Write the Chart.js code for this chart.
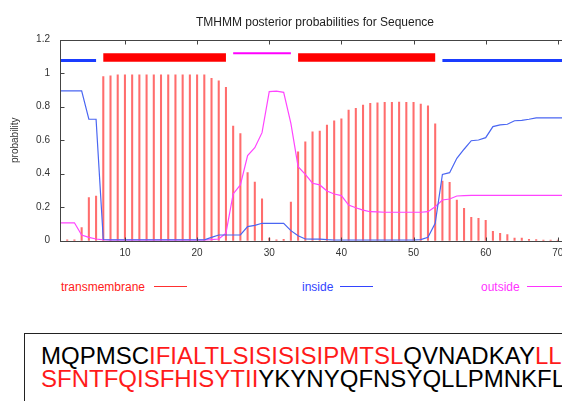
<!DOCTYPE html>
<html><head><meta charset="utf-8">
<script src="https://cdn.jsdelivr.net/npm/chart.js@4.4.0/dist/chart.umd.min.js"></script>
<style>
html,body{margin:0;padding:0;background:#fff;width:562px;height:401px;overflow:hidden;position:relative;font-family:'Liberation Sans',Arial,Helvetica,sans-serif;}
#wrap{position:absolute;left:0;top:0;width:640px;height:265px;}
.leg{position:absolute;top:280px;font-size:12px;line-height:14px;white-space:nowrap;}
.legline{position:absolute;top:286px;height:1px;}
#seqbox{position:absolute;left:24px;top:333px;width:620px;height:120px;border:1.5px solid #222;}
.seq{position:absolute;left:16px;font-size:24px;line-height:24px;white-space:nowrap;color:#000;}
.r{color:#ff1a1a;}
</style></head><body>
<div id="wrap"><canvas id="c" width="640" height="265"></canvas></div>

<div class="leg" style="left:61px;color:#ff2020;">transmembrane</div>
<div class="legline" style="left:154px;width:33px;background:#ff3030;"></div>
<div class="leg" style="left:302px;color:#3344ff;">inside</div>
<div class="legline" style="left:340px;width:33px;background:#3344ff;"></div>
<div class="leg" style="left:481px;color:#ff33ff;">outside</div>
<div class="legline" style="left:527px;width:40px;background:#ff33ff;"></div>

<div id="seqbox">
  <div class="seq" style="top:10px;">MQPMSC<span class="r">IFIALTLSISISISIPMTSL</span>QVNADKAY<span class="r">LL</span></div>
  <div class="seq" style="top:33px;"><span class="r">SFNTFQISFHISYTII</span>YKYNYQFNSYQLLPMNKFL</div>
</div>

<script>
// residue positions
const residues = [1,2,3,4,5,6,7,8,9,10,11,12,13,14,15,16,17,18,19,20,21,22,23,24,25,26,27,28,29,30,31,32,33,34,35,36,37,38,39,40,41,42,43,44,45,46,47,48,49,50,51,52,53,54,55,56,57,58,59,60,61,62,63,64,65,66,67,68,69,70,71];
// transmembrane posterior probability
const transmembrane = [0.002,0.005,0.005,0.078,0.257,0.267,0.98,0.985,0.99,0.99,0.99,0.99,0.99,0.99,0.99,0.99,0.99,0.99,0.99,0.99,0.99,0.97,0.955,0.915,0.685,0.64,0.406,0.35,0.25,0.015,0.005,0.008,0.23,0.53,0.59,0.65,0.655,0.69,0.715,0.728,0.78,0.79,0.81,0.82,0.823,0.826,0.826,0.827,0.826,0.826,0.816,0.805,0.697,0.356,0.349,0.243,0.193,0.14,0.133,0.122,0.056,0.044,0.036,0.016,0.016,0.008,0.006,0.004,0.003,0.003,0.002];
// inside posterior probability
const inside = [0.894,0.894,0.894,0.894,0.725,0.725,0.007,0.005,0.005,0.005,0.005,0.005,0.005,0.005,0.005,0.005,0.005,0.005,0.005,0.005,0.005,0.02,0.034,0.034,0.034,0.034,0.084,0.092,0.104,0.104,0.104,0.104,0.06,0.03,0.01,0.009,0.009,0.006,0.004,0.004,0.004,0.004,0.004,0.004,0.004,0.004,0.004,0.004,0.004,0.004,0.006,0.02,0.104,0.396,0.406,0.492,0.546,0.597,0.601,0.615,0.681,0.691,0.695,0.716,0.718,0.725,0.733,0.733,0.733,0.733,0.733];
// outside posterior probability
const outside = [0.107,0.107,0.107,0.034,0.02,0.01,0.005,0.004,0.004,0.004,0.004,0.004,0.004,0.004,0.004,0.004,0.004,0.004,0.004,0.004,0.004,0.006,0.01,0.045,0.279,0.333,0.508,0.555,0.645,0.89,0.893,0.886,0.70,0.442,0.396,0.343,0.333,0.297,0.279,0.269,0.213,0.197,0.183,0.173,0.172,0.17,0.17,0.17,0.17,0.17,0.17,0.173,0.203,0.243,0.249,0.267,0.269,0.271,0.271,0.271,0.271,0.271,0.271,0.271,0.271,0.271,0.271,0.271,0.271,0.271,0.271];
// predicted topology segments
const topoStart = [1,7,25,34,54];
const topoEnd   = [6,24,33,53,71];
const topoKind  = ['inside','transmembrane','outside','transmembrane','inside'];
// ticks
const xTicks = [10,20,30,40,50,60,70];
const yTickValues = [0,0.2,0.4,0.6,0.8,1.0,1.2];
const yTickLabels = ['0','0.2','0.4','0.6','0.8','1','1.2'];

const topoStyle = {
  inside:        {y:1.076, color:'#1a3cff', width:3},
  transmembrane: {y:1.094, color:'#ff0000', width:8.4},
  outside:       {y:1.119, color:'#ff00ff', width:2.2}
};

const pts = arr => residues.map((r,i)=>({x:r,y:arr[i]}));

const datasets = [
  {type:'bar', label:'transmembrane', data:pts(transmembrane), backgroundColor:'rgba(255,20,20,0.62)', borderWidth:0, barThickness:1.4, order:3},
  {type:'line', label:'inside', data:pts(inside), borderColor:'#4a66f2', borderWidth:1.2, pointRadius:0, tension:0, fill:false, order:1},
  {type:'line', label:'outside', data:pts(outside), borderColor:'#ff44ff', borderWidth:1.2, pointRadius:0, tension:0, fill:false, order:1}
];
topoStart.forEach((s,i)=>{
  const st = topoStyle[topoKind[i]];
  datasets.push({type:'line', label:'topo'+i, data:[{x:s,y:st.y},{x:topoEnd[i],y:st.y}], borderColor:st.color, borderWidth:st.width, borderCapStyle:'butt', pointRadius:0, fill:false, order:0, clip:false});
});

const framePlugin = {
  id:'frame',
  afterDatasetsDraw(chart){
    const {ctx, chartArea:a, scales:{x,y}} = chart;
    ctx.save();
    ctx.strokeStyle='#444'; ctx.lineWidth=1;
    const L=Math.round(a.left)+0.5, T=Math.round(a.top)+0.5, R=Math.round(a.right)+0.5, B=Math.round(a.bottom)+0.5;
    ctx.strokeRect(L,T,R-L,B-T);
    ctx.beginPath();
    xTicks.forEach(v=>{const px=Math.round(x.getPixelForValue(v))+0.5; ctx.moveTo(px,T); ctx.lineTo(px,T+4); ctx.moveTo(px,B); ctx.lineTo(px,B-4);});
    yTickValues.forEach(v=>{const py=Math.round(y.getPixelForValue(v))+0.5; ctx.moveTo(L,py); ctx.lineTo(L+4,py); ctx.moveTo(R,py); ctx.lineTo(R-4,py);});
    ctx.stroke(); ctx.restore();
  }
};

new Chart(document.getElementById('c'), {
  type:'bar',
  data:{datasets},
  options:{
    responsive:false, animation:false, devicePixelRatio:1,
    layout:{padding:{left:0,right:10,top:0,bottom:0}},
    plugins:{
      legend:{display:false}, tooltip:{enabled:false},
      title:{display:true, text:'TMHMM posterior probabilities for Sequence', color:'#222',
        font:{family:'Liberation Sans', size:12, weight:'normal'}, padding:{top:15.5,bottom:9.8}}
    },
    scales:{
      x:{type:'linear', min:1, max:80, offset:false,
        grid:{display:false, drawTicks:false}, border:{display:false},
        afterBuildTicks:s=>{s.ticks = xTicks.map(v=>({value:v}));},
        afterFit:s=>{s.height=24.3;},
        ticks:{color:'#333', padding:7, font:{family:'Liberation Sans', size:10}, maxRotation:0, autoSkip:false}},
      y:{type:'linear', min:0, max:1.2,
        grid:{display:false, drawTicks:false}, border:{display:false},
        afterBuildTicks:s=>{s.ticks = yTickValues.map(v=>({value:v}));},
        afterFit:s=>{s.width=60;},
        ticks:{color:'#333', padding:10, font:{family:'Liberation Sans', size:10},
          callback:(v,i)=>yTickLabels[i]},
        title:{display:true, text:'probability', color:'#333', font:{family:'Liberation Sans', size:10}, padding:{top:9,bottom:0}}}
    }
  },
  plugins:[framePlugin]
});
</script>
</body></html>
